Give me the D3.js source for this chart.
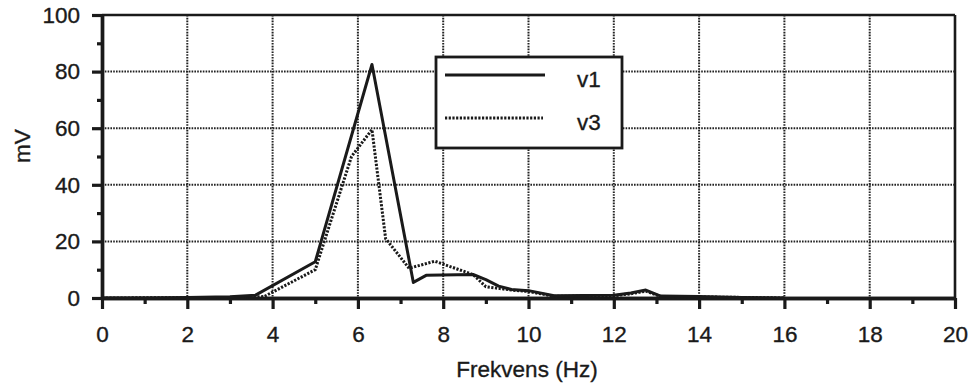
<!DOCTYPE html>
<html>
<head>
<meta charset="utf-8">
<script src="https://cdn.jsdelivr.net/npm/d3@7"></script>
<style>
  html, body { margin: 0; padding: 0; background: #fff; }
  svg { display: block; }
  text { font-family: "Liberation Sans", Arial, Helvetica, sans-serif; fill: #1a1a1a; stroke: #1a1a1a; stroke-width: 0.35px; }
</style>
</head>
<body>
<svg id="chart" width="970" height="387"></svg>
<script>
// ---- data ----
const v1Freq = [0, 1, 2, 3, 3.6, 5, 6.33, 7.3, 7.6, 8.7, 9.0, 9.3, 9.6, 10.0, 10.6, 12.0, 12.4, 12.75, 13.1, 14, 15, 16];
const v1Vals = [0, 0, 0.2, 0.4, 1, 12.8, 82.5, 5.5, 8, 8.3, 6.5, 4.2, 3.0, 2.6, 0.8, 1.0, 1.8, 2.8, 0.7, 0.5, 0.2, 0];
const v3Freq = [0, 3, 3.8, 5, 5.85, 6.33, 6.65, 7.2, 7.8, 8.7, 9.0, 9.6, 10.0, 10.6, 12.0, 12.4, 12.75, 13.1, 14, 15, 16];
const v3Vals = [0, 0.2, 0.5, 10, 50, 59.5, 21, 10.5, 13, 8.3, 4.0, 2.8, 2.3, 0.6, 0.8, 1.5, 2.4, 0.5, 0.4, 0.2, 0];
const xTicks = [0, 2, 4, 6, 8, 10, 12, 14, 16, 18, 20];
const xMinorTicks = [1, 3, 5, 7, 9, 11, 13, 15, 17, 19];
const yTicks = [0, 20, 40, 60, 80, 100];
const yMinorTicks = [10, 30, 50, 70, 90];
const seriesNames = ["v1", "v3"];
const xTitle = "Frekvens (Hz)";
const yTitle = "mV";

// ---- layout ----
const svg = d3.select("#chart");
const pL = 102, pR = 955, pT = 15, pB = 298;
const x = d3.scaleLinear().domain([0, 20]).range([pL, pR]);
const y = d3.scaleLinear().domain([0, 100]).range([pB, pT]);
const ink = "#1a1a1a";

// gridlines (dotted)
const grid = svg.append("g");
grid.selectAll("line.gx").data(xTicks.filter(d => d > 0 && d < 20)).join("line")
  .attr("x1", d => x(d)).attr("x2", d => x(d)).attr("y1", pT).attr("y2", pB)
  .attr("stroke", "#222").attr("stroke-width", 2).attr("stroke-dasharray", "1.6,1.2");
grid.selectAll("line.gy").data(yTicks.filter(d => d > 0 && d < 100)).join("line")
  .attr("x1", pL).attr("x2", pR).attr("y1", d => y(d)).attr("y2", d => y(d))
  .attr("stroke", "#222").attr("stroke-width", 2).attr("stroke-dasharray", "1.6,1.2");

// frame top / right
svg.append("line").attr("x1", pL).attr("x2", pR).attr("y1", pT).attr("y2", pT)
  .attr("stroke", ink).attr("stroke-width", 2.6);
svg.append("line").attr("x1", pR).attr("x2", pR).attr("y1", pT).attr("y2", pB)
  .attr("stroke", ink).attr("stroke-width", 2.6);

// axes
const xAxis = svg.append("g").attr("transform", `translate(0,${pB})`)
  .call(d3.axisBottom(x).tickValues(xTicks).tickSize(11).tickSizeOuter(0).tickPadding(17));
const xMinor = svg.append("g").attr("transform", `translate(0,${pB})`)
  .call(d3.axisBottom(x).tickValues(xMinorTicks).tickSize(6).tickSizeOuter(0).tickFormat(""));
const yAxis = svg.append("g").attr("transform", `translate(${pL},0)`)
  .call(d3.axisLeft(y).tickValues(yTicks).tickSize(10).tickSizeOuter(0).tickPadding(12));
const yMinor = svg.append("g").attr("transform", `translate(${pL},0)`)
  .call(d3.axisLeft(y).tickValues(yMinorTicks).tickSize(5).tickSizeOuter(0).tickFormat(""));
[xAxis, xMinor, yAxis, yMinor].forEach(g => {
  g.select(".domain").attr("stroke", ink).attr("stroke-width", 3.4);
  g.selectAll(".tick line").attr("stroke", ink).attr("stroke-width", 3.2);
  g.selectAll(".tick text").attr("fill", ink).style("font-size", "22.5px")
    .style("font-family", '"Liberation Sans", Arial, sans-serif');
});

// series
const line = d3.line().x(d => x(d[0])).y(d => y(d[1]));
svg.append("path").datum(v3Freq.map((f, i) => [f, v3Vals[i]]))
  .attr("d", line).attr("fill", "none").attr("stroke", ink)
  .attr("stroke-width", 3).attr("stroke-dasharray", "2.2,1.5");
svg.append("path").datum(v1Freq.map((f, i) => [f, v1Vals[i]]))
  .attr("d", line).attr("fill", "none").attr("stroke", ink)
  .attr("stroke-width", 3).attr("stroke-linejoin", "round");

// legend
const lg = svg.append("g");
lg.append("rect").attr("x", 436).attr("y", 57).attr("width", 186).attr("height", 91)
  .attr("fill", "#fff").attr("stroke", ink).attr("stroke-width", 2.8);
lg.append("line").attr("x1", 445).attr("x2", 545).attr("y1", 75).attr("y2", 75)
  .attr("stroke", ink).attr("stroke-width", 3);
lg.append("line").attr("x1", 445).attr("x2", 543).attr("y1", 118).attr("y2", 118)
  .attr("stroke", ink).attr("stroke-width", 3).attr("stroke-dasharray", "2.2,1.5");
lg.append("text").attr("x", 577).attr("y", 87).style("font-size", "22.5px").text(seriesNames[0]);
lg.append("text").attr("x", 577).attr("y", 130).style("font-size", "22.5px").text(seriesNames[1]);

// titles
svg.append("text").attr("x", 527).attr("y", 377).attr("text-anchor", "middle")
  .style("font-size", "22.5px").text(xTitle);
svg.append("text").attr("transform", "translate(30,146) rotate(-90)").attr("text-anchor", "middle")
  .style("font-size", "22.5px").text(yTitle);
</script>
</body>
</html>
